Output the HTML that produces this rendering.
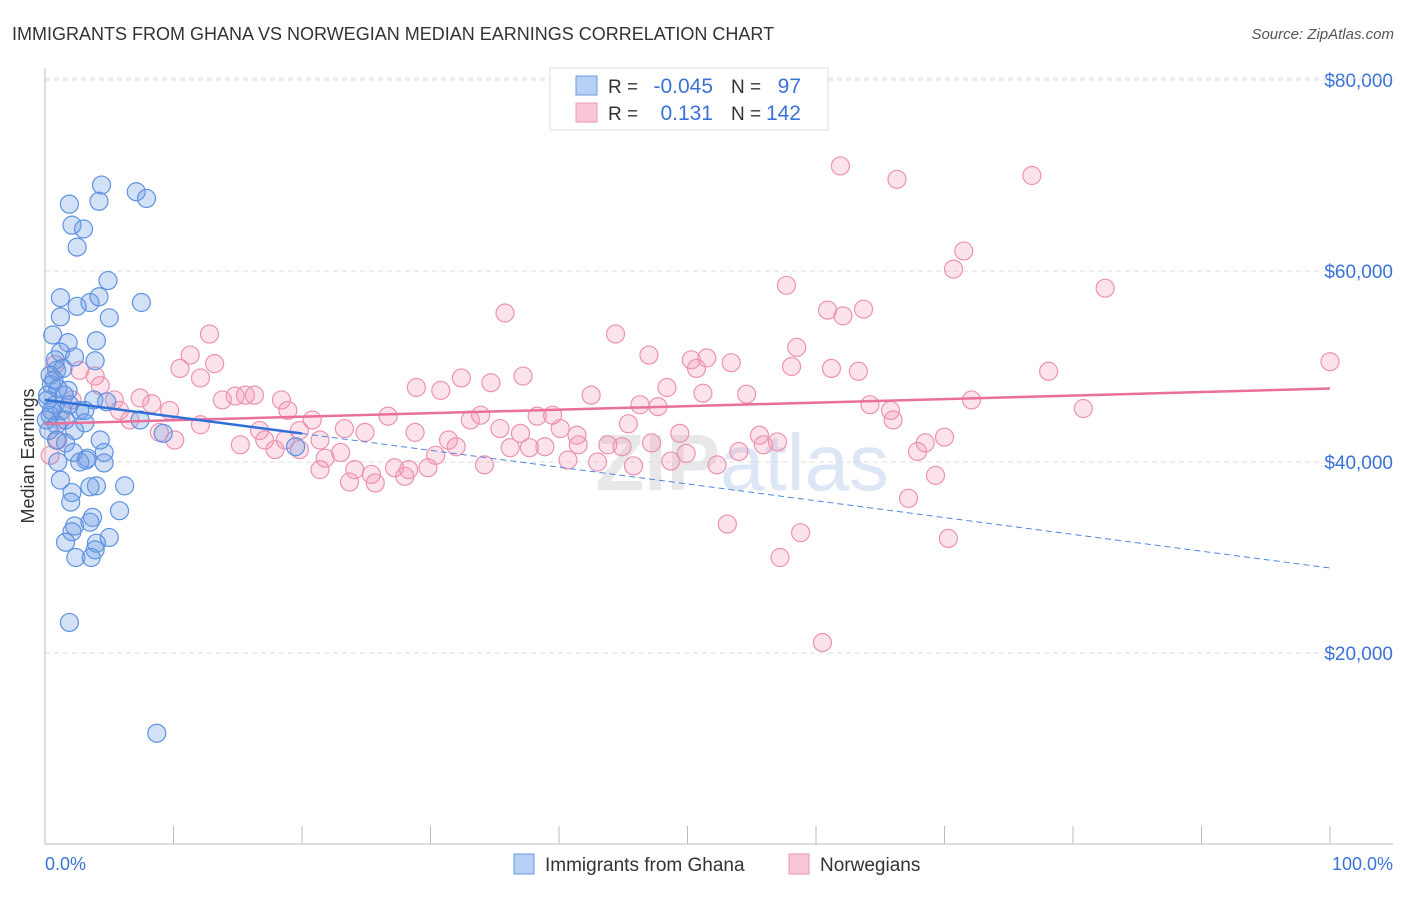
<!DOCTYPE html>
<html><head><meta charset="utf-8"><style>
body{margin:0;background:#fff;font-family:"Liberation Sans",sans-serif}
svg text{font-family:"Liberation Sans",sans-serif}
</style></head><body>
<svg width="1406" height="892" xmlns="http://www.w3.org/2000/svg">
<text x="12" y="40" font-size="18" fill="#333">IMMIGRANTS FROM GHANA VS NORWEGIAN MEDIAN EARNINGS CORRELATION CHART</text>
<text x="1394" y="39" font-size="15" fill="#555" font-style="italic" text-anchor="end">Source: ZipAtlas.com</text>
<text x="720" y="490" font-size="80" font-weight="bold" fill="#e8e8ea" text-anchor="end">ZIP</text>
<text x="720" y="490" font-size="80" fill="#dce6f5">atlas</text>
<g id="grid"></g><g id="axes"></g><g id="pink"></g><g id="blue"></g><g id="lines"></g>
<text x="34" y="456" font-size="18" fill="#333" text-anchor="middle" transform="rotate(-90 34 456)">Median Earnings</text>
<text x="45" y="870" font-size="18" fill="#3a72d8">0.0%</text>
<text x="1393" y="870" font-size="18" fill="#3a72d8" text-anchor="end">100.0%</text>
<g>
<rect x="550" y="68" width="278" height="62" fill="#fff" stroke="#ddd"/>
<rect x="576" y="76" width="21" height="19" fill="#b8d0f5" stroke="#6b9ae0"/>
<rect x="576" y="103" width="21" height="19" fill="#f9c6d6" stroke="#e89ab3"/>
<text x="608" y="93" font-size="19" fill="#333">R = </text><text x="713" y="93" font-size="21" fill="#3a72d8" text-anchor="end">-0.045</text>
<text x="731" y="93" font-size="19" fill="#333">N = </text><text x="801" y="93" font-size="21" fill="#3a72d8" text-anchor="end">97</text>
<text x="608" y="120" font-size="19" fill="#333">R = </text><text x="713" y="120" font-size="21" fill="#3a72d8" text-anchor="end">0.131</text>
<text x="731" y="120" font-size="19" fill="#333">N = </text><text x="801" y="120" font-size="21" fill="#3a72d8" text-anchor="end">142</text>
</g>
<g>
<rect x="514" y="854" width="20" height="20" fill="#b8d0f5" stroke="#6b9ae0"/>
<text x="545" y="871" font-size="19" fill="#333">Immigrants from Ghana</text>
<rect x="789" y="854" width="20" height="20" fill="#f9c6d6" stroke="#e89ab3"/>
<text x="820" y="871" font-size="19" fill="#333">Norwegians</text>
</g>
</svg>
<script>
const yTicks=[20000,40000,60000,80000];
const yTickLabels=["$20,000","$40,000","$60,000","$80,000"];
const xTicks=[0,10,20,30,40,50,60,70,80,90,100];
const blueX=[1.9,4.4,4.2,7.1,7.9,2.1,3.0,2.5,4.9,1.2,3.5,2.5,4.2,7.5,1.2,5.0,0.6,4.0,1.8,1.2,2.3,3.9,0.8,0.9,0.4,1.4,1.8,3.8,4.8,0.5,0.2,0.8,1.3,2.7,0.4,1.6,3.1,0.9,2.3,7.4,9.2,4.3,1.6,19.5,4.6,2.2,3.3,3.2,4.6,1.0,2.7,1.2,6.2,4.0,3.5,2.1,2.0,5.8,3.7,3.5,2.3,2.1,5.0,1.6,4.0,3.9,2.4,3.6,1.9,8.7,0.2,0.5,1.0,0.1,0.7,1.5,1.9,0.3,3.1,0.9];
const blueY=[67000,69000,67300,68300,67600,64800,64400,62500,59000,57200,56700,56300,57300,56700,55200,55100,53300,52700,52500,51500,51000,50600,50700,49600,49100,49800,47500,46500,46300,48100,47000,46000,45400,45400,44900,44400,44100,43900,43300,44400,43000,42300,42000,41600,41000,41000,40400,40200,39900,40000,40000,38100,37500,37500,37400,36800,35800,34900,34200,33700,33300,32700,32100,31600,31500,30800,30000,30000,23200,11600,46500,45400,47700,44400,48600,47000,46000,43300,45400,42300];
const pinkX=[61.9,66.3,76.8,71.5,70.7,57.7,82.5,35.8,60.9,62.1,63.7,44.4,12.8,58.5,47.0,100,11.3,10.5,13.2,12.1,50.3,51.5,53.4,50.7,58.1,61.2,63.3,78.1,37.2,32.4,34.7,28.9,30.8,48.4,42.5,51.2,54.6,72.1,80.8,64.2,46.3,47.7,4.3,5.4,7.4,8.3,9.7,13.8,14.8,15.6,16.3,18.4,18.9,20.8,16.7,17.1,17.9,19.8,23.3,24.9,26.7,28.8,33.1,33.9,35.4,37.0,38.3,39.5,40.1,41.4,45.4,49.4,55.6,57.0,66,65.8,68.5,70.0,67.9,19.8,21.8,23.0,24.1,25.4,27.2,28.0,29.8,30.4,31.4,32.0,34.2,36.2,37.7,38.9,40.7,41.5,43.0,43.8,44.9,45.8,47.2,48.7,49.9,52.3,54.0,55.9,21.4,23.7,25.7,28.3,53.1,58.8,57.2,70.3,67.2,69.3,60.5,1.0,2.1,2.7,3.9,0.8,0.4,1.2,5.8,6.6,8.9,10.1,12.1,15.2,18.7,21.4];
const pinkY=[71000,69600,70000,62100,60200,58500,58200,55600,55900,55300,56000,53400,53400,52000,51200,50500,51200,49800,50300,48800,50700,50900,50400,49800,50000,49800,49500,49500,49000,48800,48300,47800,47500,47800,47000,47200,47100,46500,45600,46000,46000,45800,48000,46500,46700,46100,45400,46500,46900,47000,47000,46500,45400,44400,43300,42300,41300,43300,43500,43100,44800,43100,44400,44900,43500,43000,44800,44900,43500,42800,44000,43000,42800,42100,44400,45400,42000,42600,41100,41300,40400,41000,39200,38700,39400,38500,39400,40700,42300,41600,39700,41500,41500,41600,40200,41800,40000,41800,41600,39600,42000,40100,40900,39700,41100,41800,39200,37900,37800,39200,33500,32600,30000,32000,36200,38600,21100,42300,46500,49600,49000,50200,40700,44400,45400,44400,43100,42300,43900,41800,42300,42300];
const blueTrend=[46500,28900];
const pinkTrend=[44000,47700];
const X=v=>45+v*12.85, Y=v=>844-v*0.00955;
const NS="http://www.w3.org/2000/svg";
function mk(t,a,p){const e=document.createElementNS(NS,t);for(const k in a)e.setAttribute(k,a[k]);document.getElementById(p).appendChild(e);return e;}
yTicks.forEach((t,i)=>{
 const l=mk('line',{x1:45,x2:1393,y1:Y(t),y2:Y(t),stroke:'#ddd','stroke-dasharray':'5,4'},'grid');
 
 
 const tx=mk('text',{x:1393,y:Y(t)+7,'font-size':19,fill:'#3a72d8','text-anchor':'end'},'grid');
 tx.textContent=yTickLabels[i];
 
 
});
const tl=mk('line',{x1:45,x2:1393,y1:Y(80000)-2,y2:Y(80000)-2,stroke:'#ddd','stroke-dasharray':'5,4'},'grid');
const ya=mk('line',{x1:45,x2:45,y1:68,y2:844,stroke:'#bbb'},'axes');


const xa=mk('line',{x1:45,x2:1393,y1:844,y2:844,stroke:'#bbb'},'axes');


xTicks.forEach(t=>{const l=mk('line',{x1:X(t),x2:X(t),y1:826,y2:844,stroke:'#bbb'},'axes');
 
 });
pinkX.forEach((x,i)=>{const c=mk('circle',{cx:X(x),cy:Y(pinkY[i]),r:9,fill:'rgba(244,150,180,0.28)',stroke:'#eb93b1','stroke-width':1.2},'pink');
 
 });
blueX.forEach((x,i)=>{const c=mk('circle',{cx:X(x),cy:Y(blueY[i]),r:9,fill:'rgba(110,155,230,0.3)',stroke:'#5e92e0','stroke-width':1.2},'blue');
 
 });
const bAt=x=>blueTrend[0]+(blueTrend[1]-blueTrend[0])*x/100;
const p=mk('line',{x1:X(0),y1:Y(pinkTrend[0]),x2:X(100),y2:Y(pinkTrend[1]),stroke:'#e8709a','stroke-width':2.5},'lines');


const b1=mk('line',{x1:X(0),y1:Y(bAt(0)),x2:X(20),y2:Y(bAt(20)),stroke:'#2f6fd8','stroke-width':2.5},'lines');


const b2=mk('line',{x1:X(20),y1:Y(bAt(20)),x2:X(100),y2:Y(bAt(100)),stroke:'#4f85df','stroke-width':1,'stroke-dasharray':'6,4'},'lines');


</script>
</body></html>
